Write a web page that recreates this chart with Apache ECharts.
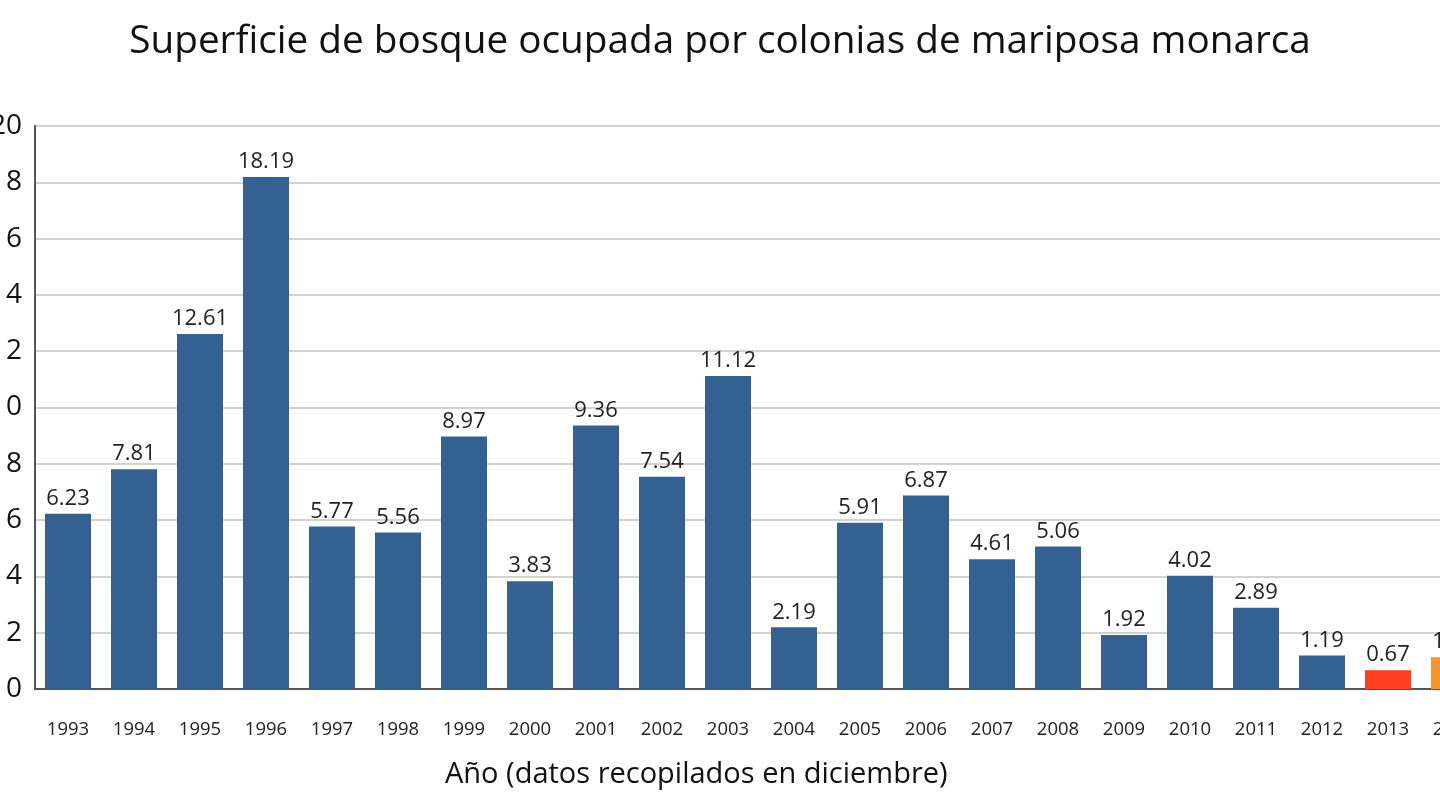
<!DOCTYPE html>
<html>
<head>
<meta charset="utf-8">
<script src="https://cdn.jsdelivr.net/npm/echarts@6/dist/echarts.min.js"></script>
<style>
  html, body { margin: 0; padding: 0; background: #fff; }
  #main { width: 1440px; height: 810px; }
</style>
</head>
<body>
<div id="main"></div>
<script>
// Superficie (hectáreas) por temporada, datos de diciembre
const years = ['1993', '1994', '1995', '1996', '1997', '1998', '1999', '2000', '2001', '2002', '2003',
  '2004', '2005', '2006', '2007', '2008', '2009', '2010', '2011', '2012', '2013', '2014'];
const hectares = [6.23, 7.81, 12.61, 18.19, 5.77, 5.56, 8.97, 3.83, 9.36, 7.54, 11.12,
  2.19, 5.91, 6.87, 4.61, 5.06, 1.92, 4.02, 2.89, 1.19, 0.67, 1.13];
const yTicks = [0, 2, 4, 6, 8, 10, 12, 14, 16, 18, 20];

const blue = '#336292';
const highlight = {'2013': '#ff3d1f', '2014': '#f7962f'};

const chart = echarts.init(document.getElementById('main'));

chart.setOption({
  animation: false,
  textStyle: {fontFamily: 'Open Sans'},
  title: {
    text: 'Superficie de bosque ocupada por colonias de mariposa monarca',
    left: 'center',
    top: 17,
    textStyle: {fontSize: 38.7, fontWeight: 'normal', color: '#111', fontFamily: 'Open Sans'}
  },
  grid: {left: 35, top: 126, width: 1452, height: 563, outerBoundsMode: 'none', containLabel: false},
  xAxis: {
    type: 'category',
    data: years,
    axisLine: {lineStyle: {color: '#555', width: 2}},
    axisTick: {show: false},
    axisLabel: {fontSize: 18.5, color: '#222', margin: 31}
  },
  yAxis: {
    type: 'value',
    min: yTicks[0],
    max: yTicks[yTicks.length - 1],
    interval: 2,
    axisLine: {show: true, lineStyle: {color: '#555', width: 2}},
    axisTick: {show: false},
    axisLabel: {fontSize: 28, color: '#111', margin: 13},
    splitLine: {lineStyle: {color: '#d2d2d2', width: 2}}
  },
  graphic: [{
    type: 'text',
    left: 445,
    top: 760,
    style: {
      text: 'Año (datos recopilados en diciembre)',
      fontSize: 29,
      fill: '#111',
      fontFamily: 'Open Sans'
    }
  }],
  series: [{
    type: 'bar',
    barWidth: 46,
    data: hectares.map((v, i) => ({
      value: v,
      itemStyle: {color: highlight[years[i]] || blue}
    })),
    label: {
      show: true,
      position: 'top',
      distance: 4,
      fontSize: 22,
      color: '#222',
      formatter: p => p.value.toFixed(2)
    }
  }]
});
</script>
</body>
</html>
